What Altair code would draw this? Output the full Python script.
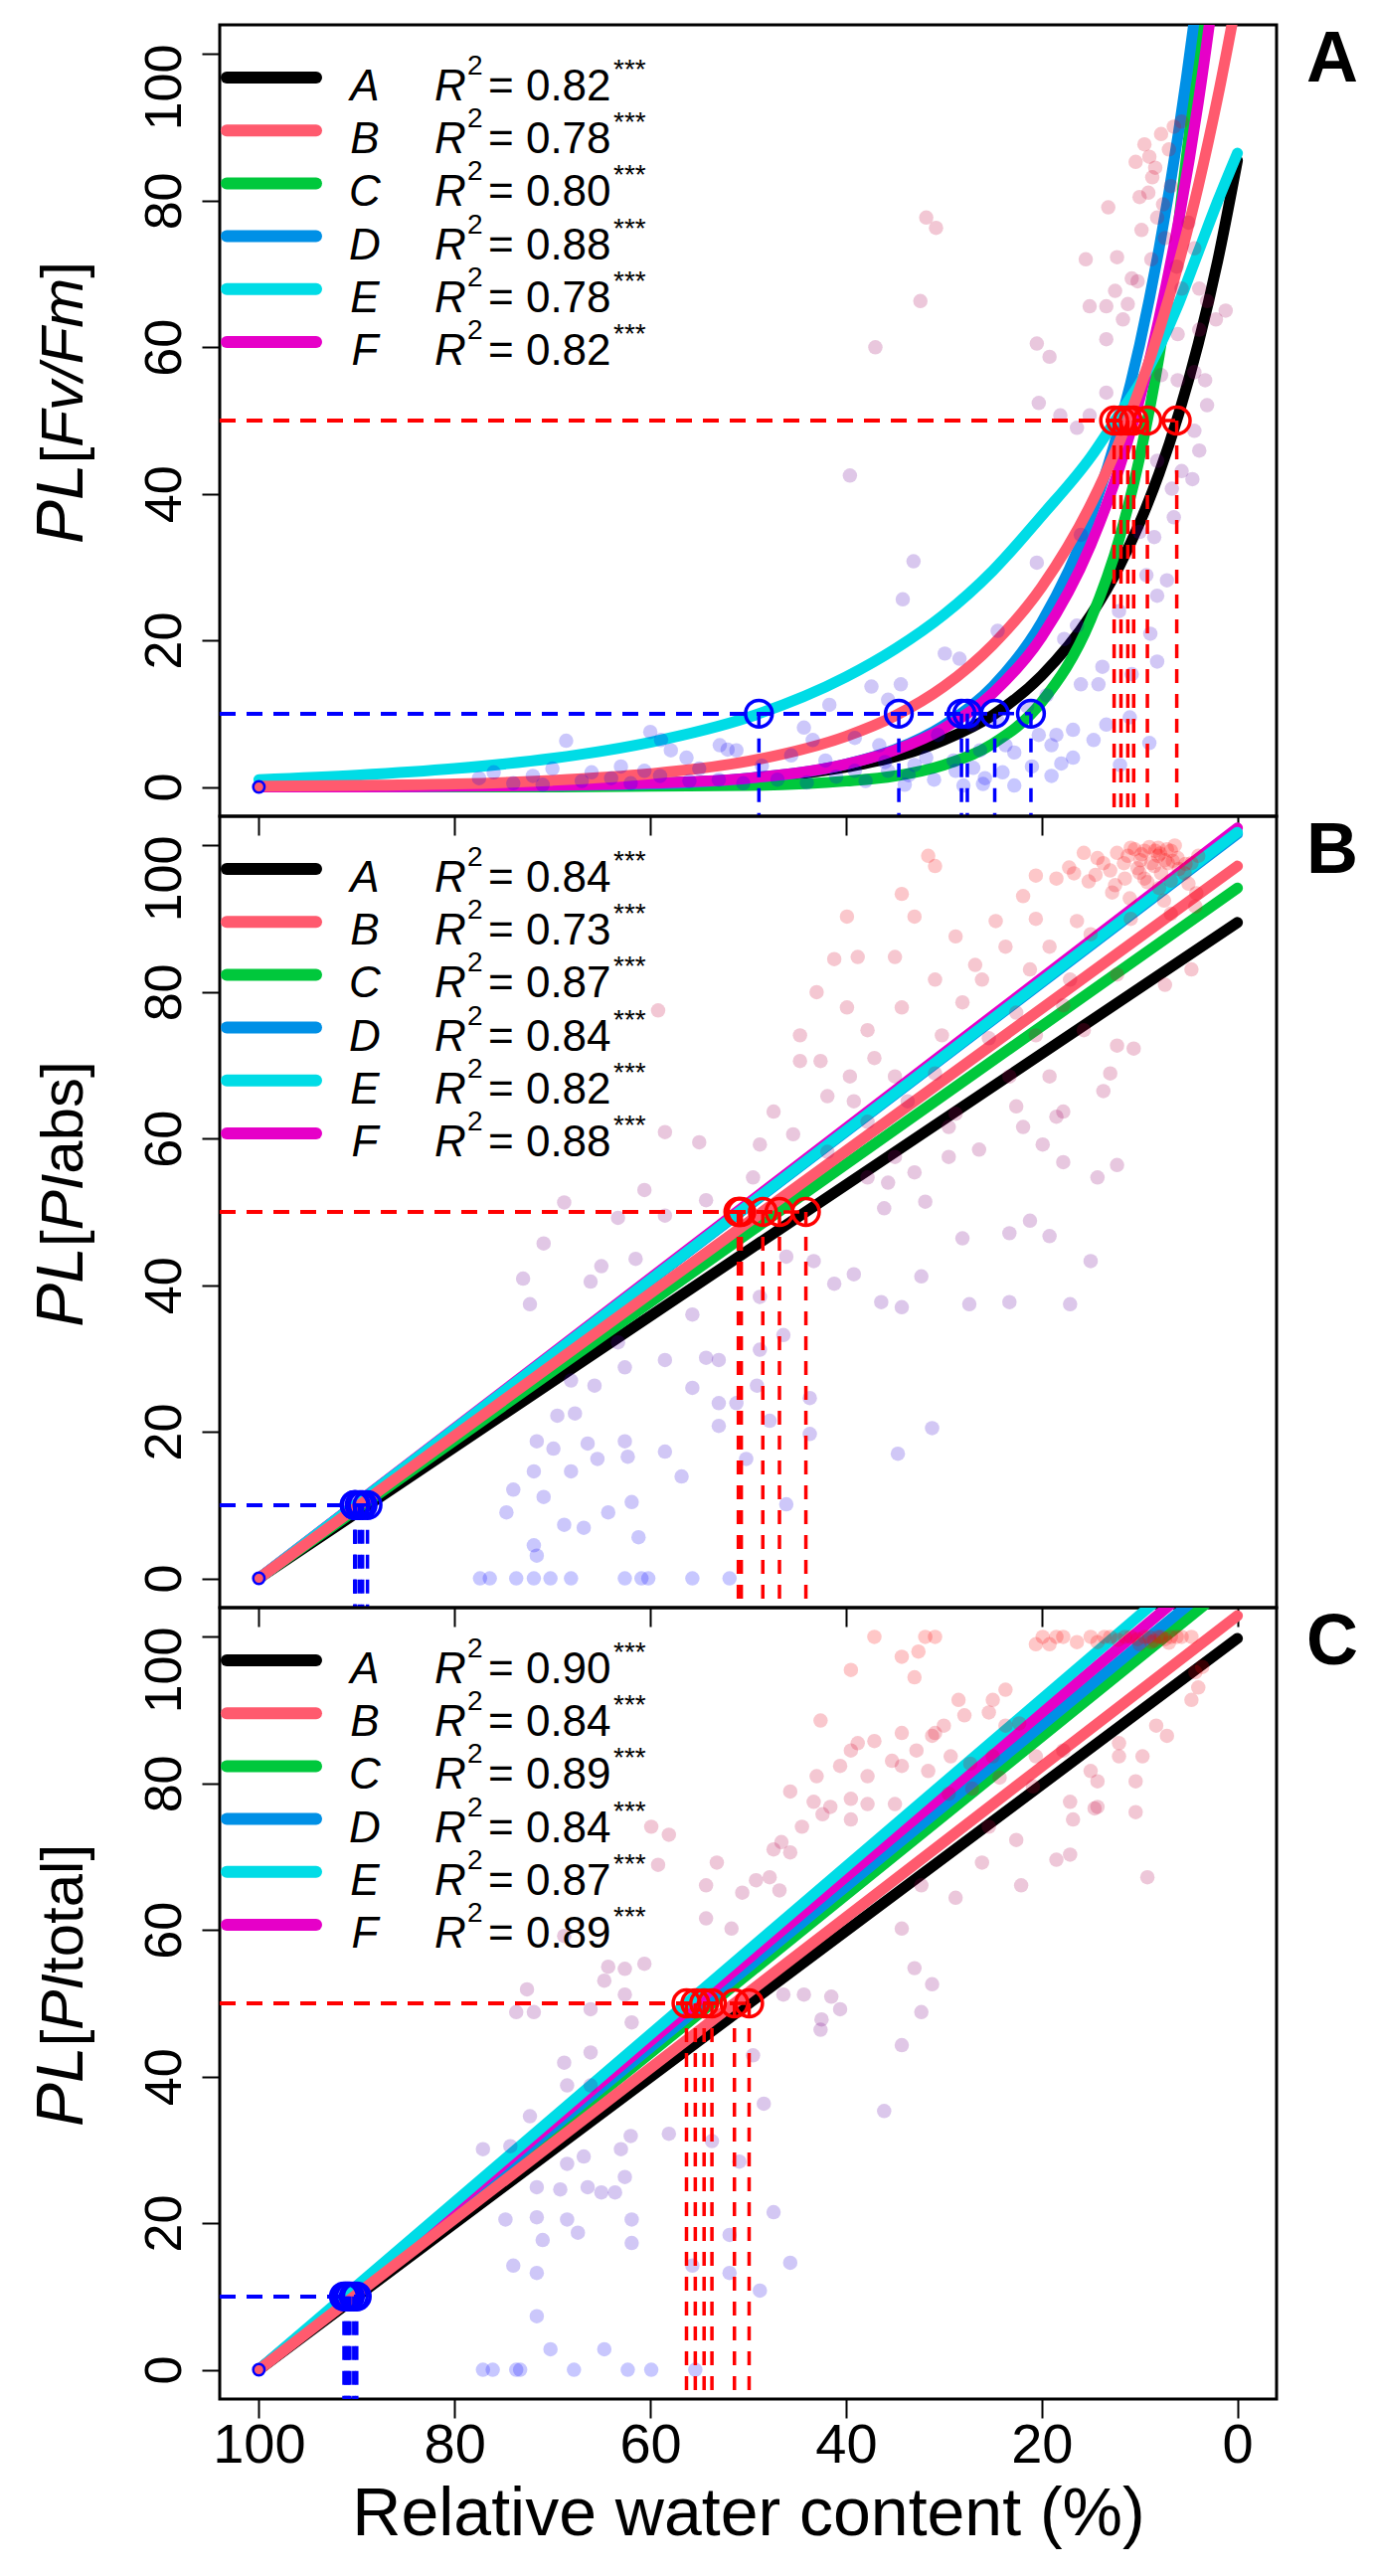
import altair as alt
import pandas as pd

# ---------------- values ----------------
series = ["A", "B", "C", "D", "E", "F"]
series_colors = ["#000000", "#FF5A6E", "#00C83C", "#0090E6", "#00DCE6", "#E600C8"]
draw_order = ["A", "C", "D", "F", "E", "B"]

r2_a = ["0.82", "0.78", "0.80", "0.88", "0.78", "0.82"]
r2_b = ["0.84", "0.73", "0.87", "0.84", "0.82", "0.88"]
r2_c = ["0.90", "0.84", "0.89", "0.84", "0.87", "0.89"]

# panel A: fitted curves read along the RWC axis
rwc_grid = [100, 90, 80, 70, 60, 50, 40, 35, 30, 25, 20, 15, 12, 10, 8, 6, 4, 2, 0]
fit_a = {
    "A": [0.0, 0.0, 0.1, 0.2, 0.5, 1.1, 2.7, 4.1, 6.4, 9.8, 15.2, 23.4, 30.3, 36.0, 42.8, 50.9, 60.5, 71.9, 85.5],
    "B": [0.1, 0.2, 0.4, 0.9, 1.8, 3.5, 6.9, 9.7, 13.7, 19.4, 27.3, 38.5, 47.3, 54.3, 62.3, 71.5, 82.0, 94.2, 108.0],
    "C": [0.0, 0.0, 0.0, 0.0, 0.1, 0.2, 0.8, 1.5, 3.0, 5.9, 11.6, 22.8, 34.2, 44.9, 58.8, 77.1, 101.0, 132.0, 173.0],
    "D": [0.0, 0.0, 0.1, 0.2, 0.4, 1.2, 3.1, 5.1, 8.4, 13.7, 22.5, 36.8, 49.5, 60.3, 73.5, 89.5, 109.0, 133.0, 162.0],
    "E": [1.0, 1.6, 2.5, 3.9, 6.1, 9.5, 15.0, 18.8, 23.5, 29.5, 37.0, 45.0, 51.0, 55.0, 60.0, 66.0, 73.0, 80.0, 86.5],
    "F": [0.0, 0.0, 0.1, 0.2, 0.5, 1.2, 3.1, 5.0, 8.0, 12.8, 20.5, 33.0, 43.8, 52.9, 64.0, 77.3, 93.4, 113.0, 136.0],
}
# panels B and C: straight fits from PL 0 at RWC 100 to these PL values at RWC 0
fit_b_end = [89.5, 97.2, 94.2, 101.6, 101.8, 102.4]
fit_c_end = [99.8, 102.9, 108.0, 109.9, 114.4, 112.1]

# RWC at which each fit reaches PL 50 and PL 10
rwc50_a = [6.2, 11.2, 9.2, 11.9, 12.6, 10.6]
rwc10_a = [24.8, 34.6, 21.1, 28.2, 48.9, 27.6]
rwc50_b = [44.1, 48.5, 46.8, 50.7, 50.9, 51.0]
rwc10_b = [88.9, 89.7, 89.4, 90.1, 90.2, 90.2]
rwc50_c = [49.9, 51.4, 53.7, 54.5, 56.3, 55.4]
rwc10_c = [90.0, 90.3, 90.7, 90.9, 91.3, 91.1]

# observations (RWC, PL)
pts_a = [
    (31.8, 77.7), (30.8, 76.3), (32.4, 66.3), (37.0, 60.0), (39.6, 42.5), (33.1, 30.8), (34.2, 25.6),
    (20.5, 60.5), (19.2, 58.7), (20.3, 52.4), (13.2, 79.1), (12.3, 72.3), (15.5, 72.0), (15.1, 65.6),
    (13.4, 65.6), (12.5, 67.7), (11.2, 65.9), (10.4, 85.3), (9.5, 87.7), (7.8, 89.1), (6.5, 90.1),
    (5.7, 90.8), (8.7, 83.2), (9.1, 81.1), (8.2, 77.7), (7.4, 74.9), (10.8, 69.4), (10.2, 69.0),
    (11.7, 63.8), (13.4, 61.1), (4.4, 73.5), (5.7, 68.0), (3.9, 68.0), (3.1, 66.3), (1.2, 65.0),
    (2.2, 63.8), (6.1, 61.8), (3.9, 62.4), (7.8, 56.2), (6.1, 55.5), (4.4, 56.6), (3.3, 55.5),
    (3.1, 52.1), (13.4, 53.8), (15.1, 50.7), (16.4, 49.0), (18.1, 50.7), (4.4, 48.6), (3.9, 45.9),
    (4.6, 42.0), (8.2, 44.5), (5.7, 43.1), (9.0, 86.0), (8.4, 84.5), (7.0, 87.0), (10.0, 80.5),
    (6.8, 82.0), (7.6, 79.5), (9.8, 76.0), (6.2, 71.0), (5.0, 77.0), (8.8, 72.0),
    (6.5, 36.8), (6.7, 40.7), (10.0, 34.8), (8.5, 34.1), (9.3, 28.9), (7.2, 28.2), (8.2, 26.1),
    (8.9, 20.9), (8.2, 17.1), (12.1, 24.0), (16.0, 34.4), (20.5, 30.6), (24.5, 21.3), (16.4, 22.0),
    (17.7, 20.2), (13.8, 16.4), (10.8, 15.4),
    (29.9, 18.2), (28.4, 17.5), (37.4, 13.7), (34.4, 14.0), (35.7, 11.9), (41.7, 11.2), (44.3, 8.1),
    (43.4, 6.4), (39.1, 6.7), (36.6, 5.7), (31.8, 4.0), (30.6, 7.1), (27.1, 8.5), (26.3, 5.0),
    (23.7, 5.7), (22.8, 4.7), (20.3, 7.1), (19.0, 5.7), (16.8, 7.8), (16.8, 4.0), (14.7, 6.4),
    (13.4, 8.5), (14.2, 14.0), (16.0, 14.0), (18.5, 7.1), (28.8, 2.2), (25.8, 1.2), (28.0, 0.2),
    (33.6, 1.6), (35.7, 2.2), (39.1, 2.2), (42.1, 3.6), (45.6, 4.3), (48.6, 2.9), (51.2, 5.0),
    (52.9, 5.7), (56.3, 4.0), (58.9, 6.4), (60.6, 2.2), (22.8, 0.2),
    (77.5, 1.2), (76.0, 2.0), (74.0, 0.5), (72.0, 1.5), (71.0, 0.3), (70.0, 2.5), (68.6, 6.3),
    (67.0, 0.8), (66.0, 2.0), (64.0, 1.2), (63.0, 2.8), (62.0, 0.5), (60.0, 7.5), (59.0, 1.5),
    (57.9, 5.0), (56.0, 0.8), (55.0, 2.5), (53.0, 1.0), (52.1, 5.1), (50.5, 0.5),
    (47.0, 1.0), (44.0, 0.6), (41.0, 1.4), (38.0, 0.8), (36.0, 3.4), (33.0, 3.0), (31.0, 1.0),
    (29.0, 3.6), (27.0, 2.6), (24.0, 2.0), (21.0, 2.8), (19.0, 1.5), (18.0, 3.2), (26.0, 0.4),
    (34.0, 0.3), (24.5, 9.0), (21.5, 11.0), (19.5, 12.5), (11.0, 9.5), (9.0, 6.0), (12.0, 3.0),
]
pts_b = [
    (13.7, 97.6), (12.3, 99.0), (10.9, 99.7), (9.5, 99.3), (8.1, 99.7), (6.8, 99.3), (6.1, 98.3),
    (7.4, 98.0), (8.8, 97.6), (10.2, 96.9), (11.6, 97.6), (13.0, 96.6), (14.3, 98.3), (15.7, 99.0),
    (4.7, 97.6), (4.0, 98.6), (5.4, 96.2), (7.8, 96.2), (9.5, 95.5), (6.4, 100.0), (8.1, 98.6),
    (7.1, 97.6), (8.4, 99.3), (9.9, 98.0), (11.2, 98.6),
    (10.5, 99.5), (9.8, 98.8), (9.0, 99.8), (8.5, 97.2), (7.9, 98.9), (7.2, 99.5), (6.6, 97.9),
    (6.0, 96.8), (5.3, 97.5), (10.0, 96.3), (11.5, 95.5), (12.5, 94.6), (9.2, 95.0), (8.0, 94.2),
    (6.8, 95.2), (5.0, 94.8), (14.5, 96.0), (15.2, 95.1), (17.2, 97.0), (16.7, 96.2), (12.8, 93.6),
    (11.0, 92.8), (7.5, 92.5), (4.2, 93.5),
    (31.6, 98.6), (30.9, 97.2), (20.6, 95.9), (18.5, 95.5), (21.9, 93.1), (34.3, 93.4), (33.0, 90.3),
    (39.9, 90.3), (24.7, 89.7), (20.6, 90.0), (16.4, 89.7), (28.8, 87.6), (23.7, 86.2), (19.2, 86.2),
    (15.0, 87.9), (10.9, 90.0), (6.8, 90.7), (4.3, 91.7), (38.8, 84.8), (41.2, 84.5), (35.0, 84.8),
    (26.8, 83.7), (30.9, 81.7), (26.1, 81.7), (21.2, 83.1), (17.1, 81.7), (12.3, 82.4), (7.4, 81.0),
    (4.7, 83.1), (43.0, 80.0), (39.9, 77.9), (34.3, 77.9), (28.1, 78.6), (22.6, 77.2), (17.8, 78.2),
    (37.8, 74.8), (44.7, 74.1), (30.2, 74.1), (25.4, 73.7), (20.6, 74.1), (15.7, 74.8), (12.3, 72.7),
    (10.6, 72.3), (44.7, 70.6), (42.6, 70.6), (37.1, 71.0), (39.6, 68.5), (35.0, 68.5), (30.9, 68.9),
    (23.3, 68.5), (19.2, 68.5), (13.0, 68.9), (13.7, 66.5), (59.2, 77.5), (41.9, 65.8), (39.2, 65.1),
    (33.7, 65.1), (28.8, 63.4), (22.6, 64.4), (17.8, 63.7), (47.4, 63.7), (45.4, 60.6), (37.8, 62.3),
    (29.5, 61.6), (21.9, 61.6), (18.5, 63.0), (58.5, 60.9), (55.0, 59.5), (48.8, 59.2), (41.9, 58.2),
    (35.0, 57.5), (26.4, 58.5), (19.9, 59.2), (17.8, 56.8), (12.3, 56.4), (14.3, 54.7), (49.5, 54.7),
    (37.8, 54.7), (33.0, 55.4), (29.5, 57.5), (60.6, 53.0), (54.3, 51.6), (68.8, 51.3), (63.3, 49.2),
    (58.5, 49.5), (35.7, 54.0), (36.1, 50.5), (31.9, 51.4), (28.1, 46.4), (23.3, 47.1), (19.2, 46.7),
    (21.2, 48.8), (70.9, 45.7), (65.0, 42.6), (61.5, 43.6), (46.1, 43.9), (43.3, 43.3), (39.2, 41.5),
    (32.3, 41.2), (15.0, 43.3), (41.2, 40.2), (36.4, 37.7), (34.3, 37.0), (27.4, 37.4), (23.3, 37.7),
    (17.1, 37.4), (73.0, 40.9), (72.3, 37.4), (66.1, 40.5), (55.7, 36.0), (48.8, 38.4), (46.4, 33.2),
    (48.8, 31.2), (49.1, 26.3), (53.0, 29.8), (54.3, 30.1), (58.5, 29.8), (62.6, 28.8), (63.3, 32.2),
    (65.7, 26.3), (68.1, 27.0), (69.5, 22.2), (67.7, 22.5), (66.4, 18.4), (71.6, 18.7), (69.9, 17.7),
    (68.1, 14.6), (65.4, 16.3), (62.6, 18.7), (62.3, 16.6), (71.9, 14.6), (74.0, 12.1), (74.7, 9.0),
    (70.9, 11.1), (68.8, 7.3), (66.8, 6.9), (64.3, 9.0), (61.9, 10.4), (61.2, 5.6), (71.9, 4.5),
    (71.6, 3.1), (58.5, 17.3), (56.8, 13.9), (53.0, 20.8), (53.0, 23.9), (55.7, 26.0), (51.2, 23.9),
    (50.2, 16.3), (47.8, 21.5), (43.7, 24.6), (43.7, 19.7), (31.2, 20.5), (34.7, 17.0), (46.1, 10.1),
    (77.4, 0.0), (76.4, 0.0), (73.7, 0.0), (71.9, 0.0), (70.2, 0.0), (68.1, 0.0), (62.6, 0.0),
    (60.9, 0.0), (60.2, 0.0), (55.7, 0.0), (51.9, 0.0),
]
pts_c = [
    (19.9, 100.0), (18.5, 100.0), (20.6, 99.0), (19.2, 99.0), (17.8, 100.0), (16.4, 99.3), (14.3, 99.3),
    (13.0, 100.0), (10.9, 100.0), (9.5, 100.0), (8.1, 100.0), (6.8, 100.0), (5.7, 100.0), (4.7, 100.0),
    (7.4, 99.7), (8.8, 99.3), (10.2, 99.7), (11.5, 100.0), (10.0, 99.0), (9.0, 100.0), (8.5, 99.5),
    (7.8, 100.0), (7.0, 99.2), (6.2, 100.0), (12.2, 99.6), (13.6, 100.0), (15.0, 100.0),
    (37.1, 100.0), (31.9, 100.0), (30.9, 100.0), (34.3, 97.3),
    (32.6, 98.0), (39.5, 95.5), (33.0, 94.5), (4.3, 95.2), (3.6, 95.9), (4.0, 93.1), (4.7, 91.4),
    (28.5, 91.4), (25.0, 91.4), (23.7, 92.8), (27.9, 89.3), (25.4, 89.7), (23.7, 87.9), (22.3, 88.2),
    (42.6, 88.6), (30.9, 86.9), (34.3, 86.9), (31.2, 86.5), (30.0, 87.9), (37.1, 85.8), (38.8, 85.5),
    (39.5, 84.5), (35.3, 83.1), (32.8, 84.5), (29.3, 83.7), (27.3, 82.7), (25.0, 83.7), (20.6, 83.7),
    (17.8, 84.5), (12.1, 83.7), (9.7, 83.7), (8.3, 87.9), (7.2, 86.5), (43.0, 81.0), (40.6, 82.4),
    (37.8, 81.0), (34.3, 82.4), (31.6, 81.7), (24.3, 80.8), (15.0, 81.7), (12.1, 85.5), (10.4, 80.3),
    (14.3, 80.3), (45.7, 78.9), (43.3, 77.5), (41.6, 76.8), (39.5, 77.9), (37.8, 77.2), (35.0, 77.2),
    (29.5, 78.6), (27.1, 79.3), (20.9, 79.6), (17.1, 77.5), (14.3, 76.8), (16.8, 75.1), (10.4, 76.1),
    (14.6, 76.6), (59.9, 74.1), (58.1, 73.0), (44.5, 74.1), (42.4, 75.8), (39.5, 75.1), (25.4, 74.1),
    (22.6, 72.3), (18.5, 69.6), (17.1, 70.3), (22.1, 66.1), (26.1, 69.2), (9.2, 67.2), (47.4, 71.0),
    (45.7, 70.6), (46.6, 72.0), (59.2, 68.9), (53.2, 69.2), (49.2, 66.8), (47.8, 67.2), (50.6, 65.1),
    (46.8, 65.4), (32.3, 66.1), (28.8, 64.4), (34.3, 60.2), (54.3, 66.1), (54.3, 61.6), (51.7, 60.2),
    (68.8, 59.2), (64.3, 55.0), (62.6, 54.7), (60.6, 55.4), (72.6, 51.9), (73.7, 48.8), (71.9, 48.8),
    (66.1, 49.2), (61.9, 47.4), (62.6, 51.2), (64.7, 53.1), (46.4, 51.2), (44.3, 51.2), (41.5, 50.9),
    (40.6, 49.2), (42.5, 47.8), (33.0, 54.8), (31.2, 52.6), (32.3, 48.8), (42.6, 46.4), (34.3, 44.3),
    (49.5, 42.9), (48.4, 36.3), (36.1, 35.3), (66.1, 43.3), (68.8, 41.9), (66.1, 38.8), (68.5, 38.8),
    (58.1, 32.2), (62.0, 31.9), (63.0, 30.1), (62.6, 26.3), (66.8, 29.1), (68.5, 28.1), (69.2, 24.6),
    (71.6, 24.9), (66.4, 24.9), (65.0, 24.2), (63.6, 24.2), (77.1, 30.1), (74.3, 30.5), (72.3, 34.6),
    (71.6, 20.8), (68.5, 20.5), (67.4, 18.7), (74.8, 20.5), (71.0, 17.7), (61.9, 20.5), (61.9, 17.3),
    (74.0, 14.2), (71.6, 13.2), (71.6, 7.3), (55.7, 14.2), (51.9, 18.4), (51.9, 13.2), (48.8, 10.8),
    (45.7, 14.6), (47.4, 21.5), (50.9, 28.4), (53.7, 31.2),
    (77.1, 0.0), (76.1, 0.0), (73.7, 0.0), (73.3, 0.0), (67.8, 0.0), (62.3, 0.0), (59.9, 0.0),
    (55.4, 0.0), (70.2, 2.8), (64.7, 2.8),
]

# y titles: italic part / upright part inside the brackets
title_italic = ["Fv/Fm", "PI", "PI"]
title_plain = ["", "abs", "total"]
panel_tags = ["A", "B", "C"]

# ---------------- layout ----------------
FONT = "Liberation Sans"
W, H = 1063, 796
LO, HI = -4, 104
TICKS = [0, 20, 40, 60, 80, 100]

# Helvetica/Arial advance widths (em) for the title glyphs
ADV = {"P": .667, "L": .556, "[": .278, "]": .278, "F": .611, "v": .5, "/": .278, "m": .833,
       "I": .278, "a": .556, "b": .556, "s": .5, "t": .278, "o": .556, "l": .222}


def tw(s, size):
    return sum(ADV[c] for c in s) * size


def x_at(px):  # pixels from the plot's left edge -> RWC value
    return HI - px * (HI - LO) / W


def y_at(py):  # pixels from the plot's top edge -> PL value
    return HI - py * (HI - LO) / H


xs = alt.Scale(domain=[LO, HI], reverse=True, nice=False, zero=False)
ys = alt.Scale(domain=[LO, HI], nice=False, zero=False)

y_axis = alt.Axis(values=TICKS, labelAngle=270, labelAlign="center", labelBaseline="alphabetic",
                  labelPadding=22, labelFontSize=52, labelFont=FONT, labelColor="black",
                  labelOffset={"condition": {"test": "datum.value == 100", "value": 33}, "value": 0},
                  tickSize=18, tickWidth=2, tickColor="black", domain=False, grid=False, title=None)


def x_axis(bottom):
    if bottom:
        return alt.Axis(values=TICKS, labelFontSize=56, labelFont=FONT, labelColor="black",
                        labelPadding=0, tickSize=19, tickWidth=2, tickColor="black",
                        domain=False, grid=False, title="Relative water content (%)",
                        titleFont=FONT, titleFontSize=68, titleFontWeight="normal",
                        titleColor="black", titlePadding=8)
    return alt.Axis(values=TICKS, labels=False, tickSize=19, tickWidth=2, tickColor="black",
                    domain=False, grid=False, title=None)


def pos(xa, xf="x", yf="y"):
    return dict(x=alt.X(xf, type="quantitative", scale=xs, axis=xa),
                y=alt.Y(yf, type="quantitative", scale=ys, axis=y_axis))


def panel(k, bottom, curves, r50, r10, pts, r2):
    xa = x_axis(bottom)
    layers = []

    # fitted curves
    for s in draw_order:
        i = series.index(s)
        layers.append(alt.Chart(curves[s]).mark_line(
            color=series_colors[i], strokeWidth=11, strokeCap="round", clip=True,
            interpolate="monotone").encode(**pos(xa)))

    # observations, shaded from blue (low PL) to red (high PL)
    pdf = pd.DataFrame(pts, columns=["x", "y"])
    layers.append(alt.Chart(pdf).mark_circle(size=210, opacity=0.22).encode(
        **pos(xa),
        color=alt.Color("y:Q", scale=alt.Scale(domain=[0, 100], range=["#0000FF", "#FF0000"],
                                               interpolate="rgb"), legend=None)))

    # dashed guides and crossing circles
    for lvl, rr, col in [(50, r50, "#FF0000"), (10, r10, "#0000FF")]:
        hdf = pd.DataFrame({"x": [HI] * 6, "x2": rr, "y": [lvl] * 6})
        vdf = pd.DataFrame({"x": rr, "y": [lvl] * 6, "y2": [LO] * 6})
        layers.append(alt.Chart(hdf).mark_rule(color=col, strokeWidth=3.5, strokeDash=[16, 11]).encode(
            **pos(xa), x2="x2:Q"))
        layers.append(alt.Chart(vdf).mark_rule(color=col, strokeWidth=3.5, strokeDash=[14, 11]).encode(
            **pos(xa), y2="y2:Q"))
        cdf = pd.DataFrame({"x": rr, "y": [lvl] * 6})
        layers.append(alt.Chart(cdf).mark_point(shape="circle", filled=False, size=720, strokeWidth=3.5,
                                                color=col, opacity=1).encode(**pos(xa)))
    odf = pd.DataFrame({"x": [100], "y": [0]})
    layers.append(alt.Chart(odf).mark_point(shape="circle", filled=False, size=130, strokeWidth=2.5,
                                            color="#0000FF", opacity=1).encode(**pos(xa)))

    # legend
    rows = [53 + 53.2 * i for i in range(6)]
    ldf = pd.DataFrame({"x": [x_at(7)] * 6, "x2": [x_at(97)] * 6, "y": [y_at(r) for r in rows],
                        "s": series})
    layers.append(alt.Chart(ldf).mark_rule(strokeWidth=12, strokeCap="round").encode(
        **pos(xa), x2="x2:Q",
        stroke=alt.Stroke("s:N", scale=alt.Scale(domain=series, range=series_colors), legend=None)))

    def txt(xpx, dy, texts, **kw):
        df = pd.DataFrame({"x": [x_at(xpx)] * 6, "y": [y_at(r + dy) for r in rows], "t": texts})
        return alt.Chart(df).mark_text(font=FONT, baseline="alphabetic", color="black", **kw).encode(
            **pos(xa), text="t:N")

    layers.append(txt(146, 23, series, fontSize=44, fontStyle="italic", align="center"))
    layers.append(txt(216, 23, ["R"] * 6, fontSize=44, fontStyle="italic", align="left"))
    layers.append(txt(249, -3, ["2"] * 6, fontSize=28, align="left"))
    layers.append(txt(270, 23, ["= " + v for v in r2], fontSize=44, align="left"))
    layers.append(txt(396, 1, ["***"] * 6, fontSize=28, align="left"))

    # y title built from pieces: PL[<italic><plain>]
    it, pl = title_italic[k], title_plain[k]
    total = tw("PL", 66) + tw("[", 60) + tw(it, 60) + tw(pl, 60) + tw("]", 60)
    start = H / 2 - 18 + total / 2
    pieces = [("PL", 66, "italic"), ("[", 60, "normal"), (it, 60, "italic"), (pl, 60, "normal"),
              ("]", 60, "normal")]
    cur = start
    for s, size, style in pieces:
        if s:
            tdf = pd.DataFrame({"x": [x_at(-138)], "y": [y_at(cur)], "t": [s]})
            layers.append(alt.Chart(tdf).mark_text(font=FONT, fontSize=size, fontStyle=style,
                                                   angle=270, align="left", baseline="alphabetic",
                                                   color="black").encode(**pos(xa), text="t:N"))
        cur -= tw(s, size)

    # panel tag
    gdf = pd.DataFrame({"x": [x_at(1119)], "y": [y_at(57)], "t": [panel_tags[k]]})
    layers.append(alt.Chart(gdf).mark_text(font=FONT, fontSize=72, fontWeight="bold", align="center",
                                           baseline="alphabetic", color="black").encode(
        **pos(xa), text="t:N"))

    return alt.layer(*layers).properties(width=W, height=H)


def curve_df(xv, yv):
    return pd.DataFrame({"x": xv, "y": yv})


curves_a = {s: curve_df(rwc_grid, fit_a[s]) for s in series}
curves_b = {s: curve_df([100, 0], [0, fit_b_end[i]]) for i, s in enumerate(series)}
curves_c = {s: curve_df([100, 0], [0, fit_c_end[i]]) for i, s in enumerate(series)}

pa = panel(0, False, curves_a, rwc50_a, rwc10_a, pts_a, r2_a)
pb = panel(1, False, curves_b, rwc50_b, rwc10_b, pts_b, r2_b)
pc = panel(2, True, curves_c, rwc50_c, rwc10_c, pts_c, r2_c)

chart = alt.vconcat(pa, pb, pc, spacing=0, bounds="flush").properties(
    padding={"left": 20, "top": 14, "right": 5, "bottom": 5},
    background="white",
).configure_view(stroke="black", strokeWidth=3)

chart.save("out.html", embed_options={"renderer": "svg", "actions": False})
